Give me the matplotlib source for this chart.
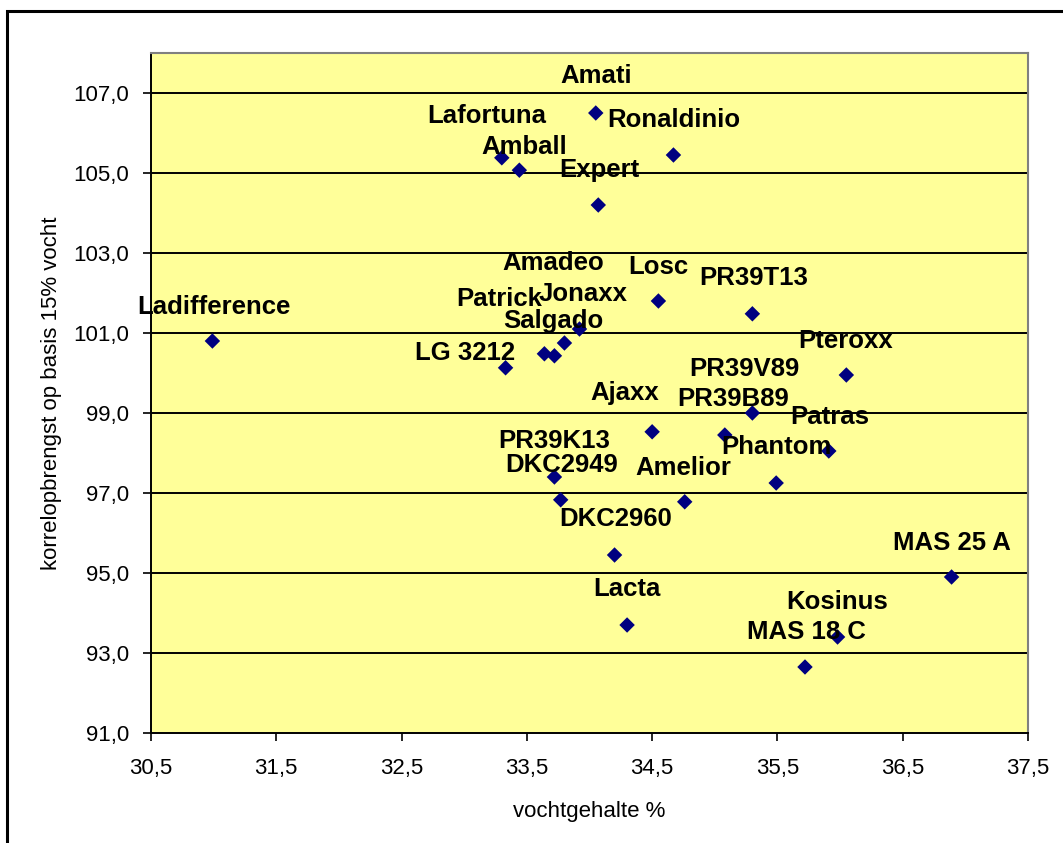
import matplotlib
matplotlib.use("Agg")
import matplotlib.pyplot as plt
from matplotlib.ticker import FuncFormatter, FixedLocator
from matplotlib.patches import Rectangle

plt.rcParams['font.family'] = ['Liberation Sans', 'DejaVu Sans']

# ---- data ----
names = ["Ladifference", "Amati", "Ronaldinio", "Lafortuna", "Amball", "Expert",
         "Losc", "Jonaxx", "Amadeo", "Patrick", "Salgado", "LG 3212", "Ajaxx",
         "PR39T13", "Pteroxx", "PR39V89", "PR39B89", "Patras", "PR39K13", "Phantom",
         "DKC2949", "Amelior", "DKC2960", "Lacta", "Kosinus", "MAS 18 C", "MAS 25 A"]
vocht = [30.99, 34.05, 34.67, 33.30, 33.44, 34.07,
         34.55, 33.92, 33.80, 33.64, 33.72, 33.33, 34.50,
         35.30, 36.05, 35.30, 35.08, 35.91, 33.72, 35.49,
         33.77, 34.76, 34.20, 34.30, 35.98, 35.72, 36.89]
opbrengst = [100.80, 106.50, 105.45, 105.38, 105.07, 104.20,
             101.80, 101.10, 100.75, 100.48, 100.43, 100.13, 98.53,
             101.48, 99.95, 99.00, 98.45, 98.05, 97.40, 97.25,
             96.83, 96.78, 95.45, 93.70, 93.40, 92.65, 94.90]

x_ticks = [30.5, 31.5, 32.5, 33.5, 34.5, 35.5, 36.5, 37.5]
y_ticks = [91, 93, 95, 97, 99, 101, 103, 105, 107]

# label offsets (pixels) from each point
label_offsets = {
    "Ladifference": (2, 34), "Amati": (0, 37), "Ronaldinio": (0, 35),
    "Lafortuna": (-15, 42), "Amball": (5, 23), "Expert": (1, 35),
    "Losc": (0, 34), "Jonaxx": (4, 35), "Amadeo": (-11, 80),
    "Patrick": (-45, 55), "Salgado": (-1, 35), "LG 3212": (-40, 15),
    "Ajaxx": (-27, 39), "PR39T13": (1, 36), "Pteroxx": (-1, 34),
    "PR39V89": (-8, 44), "PR39B89": (8, 36), "Patras": (1, 34),
    "PR39K13": (0, 36), "Phantom": (0, 36), "DKC2949": (1, 35),
    "Amelior": (-1, 34), "DKC2960": (1, 36), "Lacta": (0, 36),
    "Kosinus": (0, 35), "MAS 18 C": (1, 35), "MAS 25 A": (0, 34),
}

W, H = 1063, 843
fig = plt.figure(figsize=(W / 100, H / 100), dpi=100)
fig.patch.set_facecolor("white")

# outer chart border (clipped at right/bottom as in reference)
fig.patches.append(Rectangle((7 / W, -0.1), 1.2, (H - 11) / H + 0.1,
                             transform=fig.transFigure, fill=False,
                             edgecolor="black", linewidth=2.2, zorder=0))

ax = fig.add_axes([151 / W, (H - 733) / H, 877 / W, 680 / H])
ax.set_facecolor("#FFFF99")
ax.set_xlim(30.5, 37.5)
ax.set_ylim(91, 108)

ax.xaxis.set_major_locator(FixedLocator(x_ticks))
ax.yaxis.set_major_locator(FixedLocator(y_ticks))
fmt = FuncFormatter(lambda v, p: f"{v:.1f}".replace(".", ","))
ax.xaxis.set_major_formatter(fmt)
ax.yaxis.set_major_formatter(fmt)

for yv in y_ticks[1:]:
    ax.axhline(yv, color="black", linewidth=1.4, zorder=1)

for s in ["top", "right"]:
    ax.spines[s].set_color("#808080")
    ax.spines[s].set_linewidth(1.5)
for s in ["left", "bottom"]:
    ax.spines[s].set_color("black")
    ax.spines[s].set_linewidth(1.4)

ax.tick_params(axis="both", direction="out", length=6, width=1.2,
               labelsize=16, colors="black")
ax.tick_params(axis="y", pad=10)
ax.tick_params(axis="x", pad=12)

ax.scatter(vocht, opbrengst, marker="D", s=62, color="#000080",
           edgecolors="none", zorder=3, clip_on=False)

for n, xv, yv in zip(names, vocht, opbrengst):
    dx, dy = label_offsets[n]
    ax.annotate(n, (xv, yv), xytext=(dx, dy), textcoords="offset pixels",
                ha="center", va="center", fontsize=18.5, fontweight="bold",
                color="black", zorder=4, annotation_clip=False)

fig.text(589 / W, 1 - 811 / H, "vochtgehalte %", ha="center", va="center",
         fontsize=16)
fig.text(52 / W, 1 - 393 / H, "korrelopbrengst op basis 15% vocht",
         ha="center", va="center", rotation=90, fontsize=16)

fig.savefig("out.png", dpi=100)
